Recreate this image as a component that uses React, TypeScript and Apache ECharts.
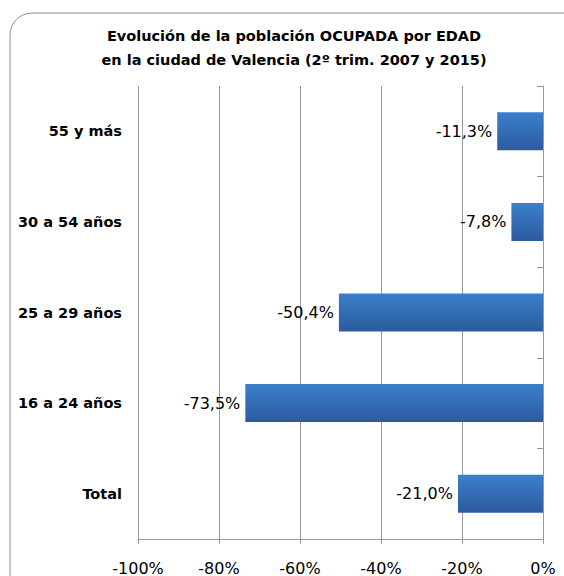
import React, { useEffect, useRef } from "react";
import * as echarts from "echarts";

const categories = ["Total", "16 a 24 años", "25 a 29 años", "30 a 54 años", "55 y más"];
const values = [-21.0, -73.5, -50.4, -7.8, -11.3];
const titleLines = ["Evolución de la población OCUPADA por EDAD", "en la ciudad de Valencia (2º trim. 2007 y 2015)"];

const fmt = (v: number) => v.toFixed(1).replace(".", ",") + "%";

export default function App() {
  const ref = useRef<HTMLDivElement>(null);
  useEffect(() => {
    const chart = echarts.init(ref.current!, null, { renderer: "svg" });
    chart.setOption({
      animation: false,
      backgroundColor: "#ffffff",
      title: {
        text: titleLines.join("\n"),
        left: 289,
        top: 19,
        textAlign: "center",
        textStyle: { fontFamily: "DejaVu Sans", fontWeight: "bold", fontSize: 14.5, lineHeight: 24, color: "#000" },
      },
      graphic: [
        {
          type: "rect",
          shape: { x: 10, y: 13, width: 580, height: 590, r: 22 },
          style: { fill: "none", stroke: "#8c8c8c", lineWidth: 1 },
          silent: true,
        },
      ],
      grid: { left: 138, right: 21, top: 86, bottom: 27, containLabel: false },
      xAxis: {
        type: "value",
        min: -100,
        max: 0,
        interval: 20,
        axisLine: { show: true, onZero: false, lineStyle: { color: "#999", width: 1 } },
        axisTick: { show: true, length: 5, lineStyle: { color: "#999" } },
        splitLine: { show: true, lineStyle: { color: "#999", width: 1 } },
        axisLabel: {
          formatter: (v: number) => v + "%",
          fontFamily: "DejaVu Sans",
          fontSize: 16,
          color: "#000",
          margin: 21,
        },
      },
      yAxis: [
        {
          type: "category",
          data: categories,
          position: "left",
          axisLine: { show: false, onZero: false },
          axisTick: { show: false },
          axisLabel: {
            fontFamily: "DejaVu Sans",
            fontWeight: "bold",
            fontSize: 14.5,
            color: "#000",
            margin: 16,
          },
        },
        {
          type: "category",
          data: categories,
          position: "right",
          axisLine: { show: true, onZero: false, lineStyle: { color: "#999" } },
          axisTick: { show: true, inside: true, length: 6, lineStyle: { color: "#999" } },
          axisLabel: { show: false },
        },
      ],
      series: [
        {
          type: "bar",
          yAxisIndex: 0,
          data: values,
          barWidth: 38,
          itemStyle: {
            color: new echarts.graphic.LinearGradient(0, 0, 0, 1, [
              { offset: 0, color: "#3b7fcd" },
              { offset: 1, color: "#2c5b9c" },
            ]),
          },
          label: {
            show: true,
            position: "left",
            distance: 5,
            formatter: (p: any) => fmt(p.value),
            fontFamily: "DejaVu Sans",
            fontSize: 16,
            color: "#000",
          },
        },
      ],
    });
    return () => chart.dispose();
  }, []);
  return <div ref={ref} style={{ position: "absolute", left: 0, top: 0, width: 564, height: 576 }} />;
}
